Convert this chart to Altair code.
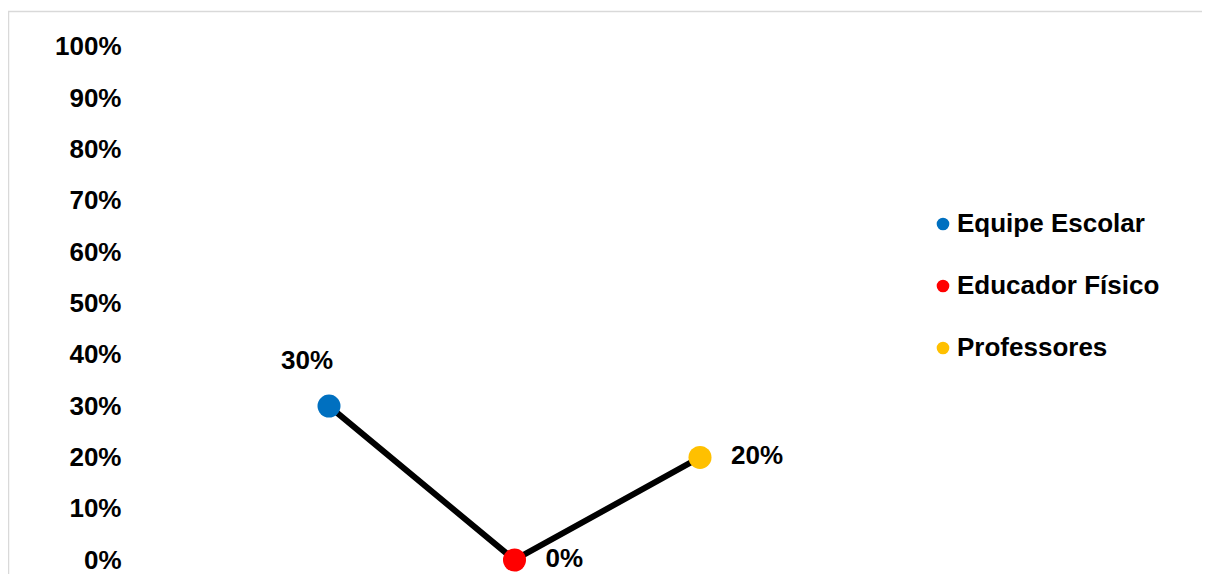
import altair as alt
import pandas as pd

categories = ["Equipe Escolar", "Educador Físico", "Professores"]
values = [0.30, 0.00, 0.20]
colors = ["#0070C0", "#FF0000", "#FFC000"]
y_ticks = [0.0, 0.1, 0.2, 0.3, 0.4, 0.5, 0.6, 0.7, 0.8, 0.9, 1.0]

df = pd.DataFrame({"categoria": categories, "valor": values})

FONT = "Liberation Sans"
W, H = 1194, 566

x_enc = alt.X("ordem:Q", axis=None,
              scale=alt.Scale(domain=[-1.7305, 4.7062], nice=False, zero=False))
y_enc = alt.Y("valor:Q",
              scale=alt.Scale(domain=[-0.02729, 1.07602], nice=False, zero=False),
              axis=alt.Axis(values=y_ticks, format=".0%", title=None,
                            labelFont=FONT, labelFontSize=26, labelFontWeight="bold",
                            labelColor="#000000", domain=False, ticks=False, tickSize=0,
                            grid=False, labelPadding=0, offset=-113,
                            labelFlush=False, labelOverlap=False, labelBound=False))

base = alt.Chart(df).transform_window(n="row_number()").transform_calculate(
    ordem="datum.n - 1")

line = base.mark_line(color="#000000", strokeWidth=6).encode(x=x_enc, y=y_enc)

points = base.mark_circle(size=530, opacity=1).encode(
    x=x_enc, y=y_enc,
    color=alt.Color("categoria:N", sort=categories,
                    scale=alt.Scale(domain=categories, range=colors),
                    legend=alt.Legend(title=None, orient="none", legendX=922, legendY=203,
                                      symbolType="circle", symbolSize=160,
                                      labelFont=FONT, labelFontSize=26,
                                      labelFontWeight="bold", labelColor="#000000",
                                      labelOffset=1, rowPadding=36, padding=0,
                                      labelLimit=400)))

lbl_above = base.transform_filter(alt.datum.categoria == categories[0]).mark_text(
    font=FONT, fontSize=26, fontWeight="bold", color="#000000",
    align="center", baseline="middle", dx=-22, dy=-45
).encode(x=x_enc, y=y_enc, text=alt.Text("valor:Q", format=".0%"))

lbl_right = base.transform_filter(alt.datum.categoria != categories[0]).mark_text(
    font=FONT, fontSize=26, fontWeight="bold", color="#000000",
    align="left", baseline="middle", dx=31, dy=-1
).encode(x=x_enc, y=y_enc, text=alt.Text("valor:Q", format=".0%"))

frame_df = pd.DataFrame({"k": [0]})
top_rule = alt.Chart(frame_df).mark_rule(color="#d9d9d9", strokeWidth=1.5).encode(
    x=alt.value(0), x2=alt.value(W), y=alt.value(3.5))
left_rule = alt.Chart(frame_df).mark_rule(color="#d9d9d9", strokeWidth=1.5).encode(
    x=alt.value(0.5), y=alt.value(3.5), y2=alt.value(H))

chart = alt.layer(top_rule, left_rule, line, points, lbl_above, lbl_right).properties(
    width=W, height=H,
    autosize=alt.AutoSizeParams(type="none"),
    padding=0,
    background="#ffffff",
).configure_view(stroke=None)

chart.save("out.html", embed_options={"renderer": "svg", "actions": False})
